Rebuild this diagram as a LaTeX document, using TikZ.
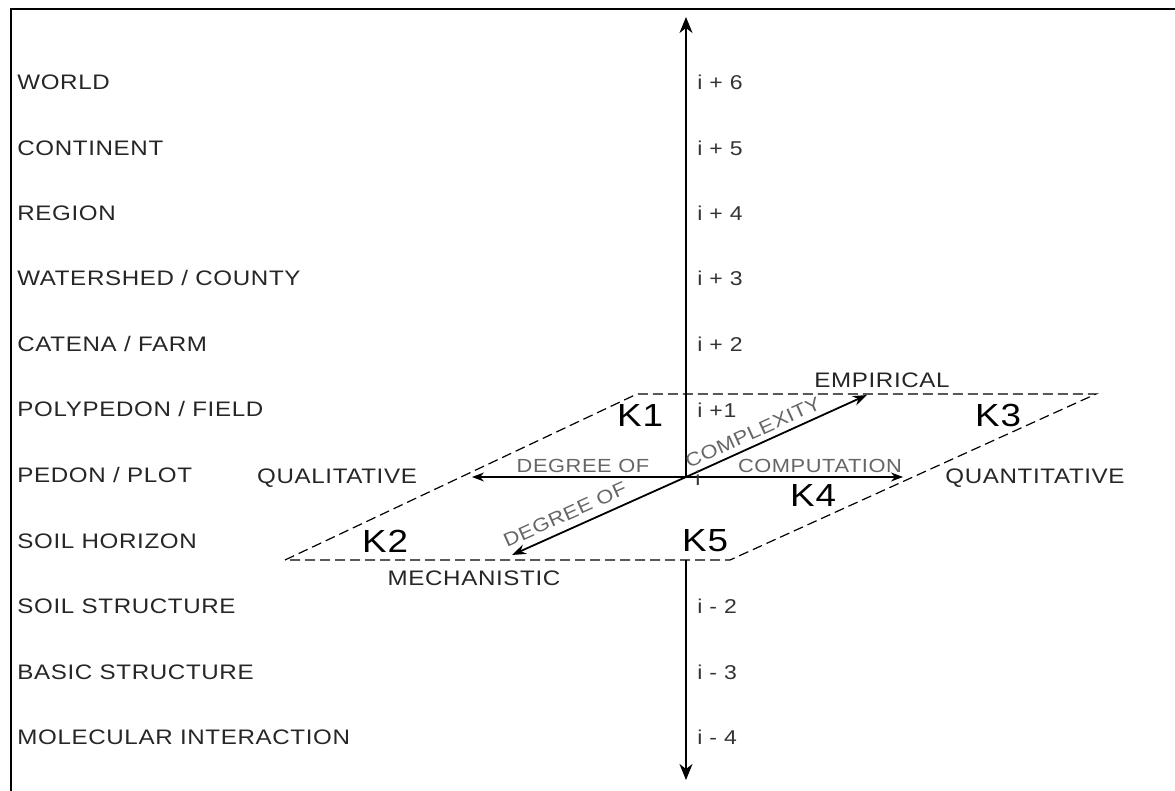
\documentclass[tikz,border=0pt]{standalone}
\usepackage{fontspec}
\setmainfont{Liberation Sans}[FakeStretch=1.15,LetterSpace=3]
\usetikzlibrary{arrows.meta}

\tikzset{
  level/.style={anchor=west,inner sep=0pt,font=\fontsize{10.5}{12}\selectfont,text=black!85},
  index/.style={anchor=west,inner sep=0pt,font=\fontsize{10}{12}\selectfont,text=black!80},
  klabel/.style={inner sep=0pt,font=\fontsize{16}{18}\selectfont},
  pole/.style={inner sep=0pt,font=\fontsize{10.5}{12}\selectfont,text=black!85},
  axislabel/.style={inner sep=0pt,font=\fontsize{9.5}{11}\selectfont,text=black!60},
  plane/.style={dash pattern=on 5pt off 2.5pt,line width=0.6pt},
  scaletip/.style={line width=1pt,-{Stealth[length=8pt,width=6.5pt,inset=2.5pt]}},
  axisarrow/.style={line width=0.6pt,-{Stealth[length=6pt,width=4.5pt]}},
}

\begin{document}
\begin{tikzpicture}[x=0.5pt,y=-0.5pt]
\useasboundingbox (0,0) rectangle (1175,791);

% frame
\coordinate (F0) at (11,791);
\coordinate (F1) at (11,9);
\coordinate (F2) at (1175,9);
\draw[line width=0.8pt] (F0) -- (F1) -- (F2);

% plane
\coordinate (BL) at (285,560);
\coordinate (TL) at (637,394);
\coordinate (TR) at (1096,394);
\coordinate (BR) at (730,560);
\draw[plane] (BL) -- (TL) -- (TR) -- (BR) -- cycle;

% scale axis
\coordinate (C) at (686,477);
\coordinate (T) at (686,17);
\coordinate (B) at (686,780);
\coordinate (Bp) at (686,560);
\draw[scaletip] (C) -- (T);
\draw[scaletip] (Bp) -- (B);

% degree of computation
\coordinate (QL) at (472,477);
\coordinate (QN) at (903,477);
\draw[axisarrow] (C) -- (QL);
\draw[axisarrow] (C) -- (QN);

% degree of complexity
\coordinate (EM) at (867,395);
\coordinate (ME) at (512,555);
\draw[line width=0.9pt,-{Stealth[length=7pt,width=5pt]}] (C) -- (EM);
\draw[line width=0.9pt,-{Stealth[length=7pt,width=5pt]}] (C) -- (ME);
\path (C) -- (EM) node[axislabel,pos=0.40,sloped,above=3pt] (cplx) {COMPLEXITY};
\path (ME) -- (C) node[axislabel,pos=0.34,sloped,above=4pt] (dgr2) {DEGREE OF};

\node[axislabel] (dgr1) at (583,466) {DEGREE OF};
\node[axislabel] (comp) at (820,466) {COMPUTATION};

% scale levels
\node[level] (world) at (17,82) {WORLD};
\node[level] (cont) at (17,148) {CONTINENT};
\node[level] (region) at (17,213) {REGION};
\node[level] (wshed) at (17,278) {WATERSHED / COUNTY};
\node[level] (catena) at (17,344) {CATENA / FARM};
\node[level] (polyp) at (17,409) {POLYPEDON / FIELD};
\node[level] (pedon) at (17,475) {PEDON / PLOT};
\node[level] (horiz) at (17,541) {SOIL HORIZON};
\node[level] (struct) at (17,606) {SOIL STRUCTURE};
\node[level] (basic) at (17,672) {BASIC STRUCTURE};
\node[level] (molec) at (17,737) {MOLECULAR INTERACTION};

\node[index] (ip6) at (697,82) {i + 6};
\node[index] (ip5) at (697,148) {i + 5};
\node[index] (ip4) at (697,213) {i + 4};
\node[index] (ip3) at (697,278) {i + 3};
\node[index] (ip2) at (697,344) {i + 2};
\node[index] (ip1) at (697,410) {i +1};
\node[index,anchor=base west] (i0) at (695,486) {i};
\node[index] (im2) at (697,606) {i - 2};
\node[index] (im3) at (697,672) {i - 3};
\node[index] (im4) at (697,737) {i - 4};

% poles
\node[pole] (empir) at (882,380) {EMPIRICAL};
\node[pole] (mech) at (474,578) {MECHANISTIC};
\node[pole] (qual) at (337,478) {QUALITATIVE};
\node[pole] (quant) at (1035,478) {QUANTITATIVE};

% knowledge classes
\node[klabel] (k1) at (640,415) {K1};
\node[klabel] (k2) at (385,541) {K2};
\node[klabel] (k3) at (998,415) {K3};
\node[klabel] (k4) at (813,495) {K4};
\node[klabel] (k5) at (705,541) {K5};
\end{tikzpicture}
\end{document}
